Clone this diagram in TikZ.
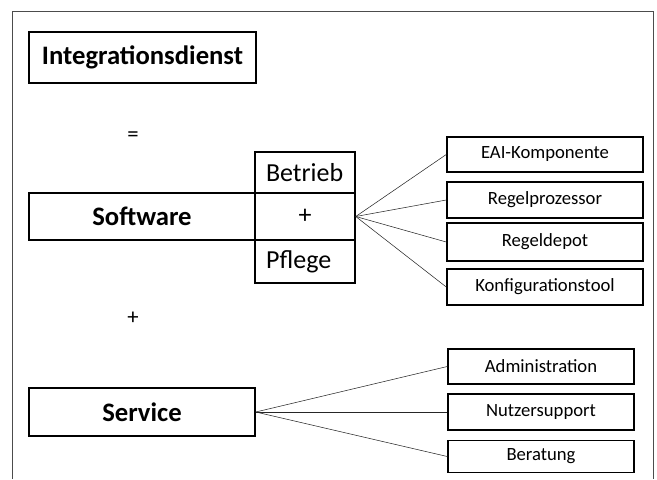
\documentclass[tikz,border=0pt]{standalone}
\usepackage{fontspec}
\setmainfont{Carlito}
\def\pxu{0.75pt}
\begin{document}
\begin{tikzpicture}[x=0.75pt,y=-0.75pt,
  bigbox/.style={draw,line width=1.1pt,font=\fontsize{19.5}{21}\selectfont,inner sep=0pt},
  boldbig/.style={bigbox,font=\fontsize{20}{22}\selectfont\bfseries},
  smallbox/.style={draw,line width=1.1pt,font=\fontsize{14}{15}\selectfont,inner sep=0pt,minimum width=196*\pxu,minimum height=36*\pxu},
  servbox/.style={draw,line width=1.1pt,font=\fontsize{14}{15}\selectfont,inner sep=0pt,minimum width=186*\pxu,minimum height=35*\pxu},
  sidebox/.style={draw,line width=1.1pt,font=\fontsize{19.5}{21}\selectfont,inner xsep=11*\pxu,inner ysep=0pt,text width=78*\pxu,align=left,minimum height=41*\pxu},
  conn/.style={line width=0.4pt,black!85},
  frame/.style={line width=0.75pt,black!70},
  sym/.style={font=\fontsize{17}{18}\selectfont,inner sep=0pt}]
\useasboundingbox (0,0) rectangle (657,479);
\draw[frame] (12,479) -- (12,11.5) -- (653,11.5) -- (653,479);

\node[boldbig,minimum width=227*\pxu,minimum height=51*\pxu] (title) at (142.5,57.5) {Integrationsdienst};
\node[sym] (eq) at (133,137) {=};

\node[boldbig,minimum width=226*\pxu,minimum height=47*\pxu] (software) at (142,216.5) {Software};
\node[bigbox,minimum width=100*\pxu,minimum height=47*\pxu] (plus) at (305,216.5) {+};
\node[sidebox] (betrieb) at (305,172.5) {Betrieb};
\node[sidebox,minimum height=43*\pxu] (pflege) at (305,261.5) {Pflege};

\node[smallbox,minimum height=35*\pxu] (eai) at (545,154.5) {EAI-Komponente};
\node[smallbox] (regelp) at (545,200) {Regelprozessor};
\node[smallbox,minimum height=38*\pxu] (regeld) at (545,242) {Regeldepot};
\node[smallbox] (konf) at (545,287) {Konfigurationstool};

\node[sym] (plus2) at (133,318) {+};

\node[boldbig,minimum width=226*\pxu,minimum height=48*\pxu] (service) at (142,412) {Service};

\node[servbox] (admin) at (541,366.5) {Administration};
\node[servbox,minimum height=36*\pxu] (nutzer) at (541,412) {Nutzersupport};
\node[servbox,minimum height=32*\pxu] (beratung) at (541,456.5) {Beratung};

\foreach \t in {eai,regelp,regeld,konf} \draw[conn] (plus.east) -- (\t.west);
\foreach \t in {admin,nutzer,beratung} \draw[conn] (service.east) -- (\t.west);
\end{tikzpicture}
\end{document}
